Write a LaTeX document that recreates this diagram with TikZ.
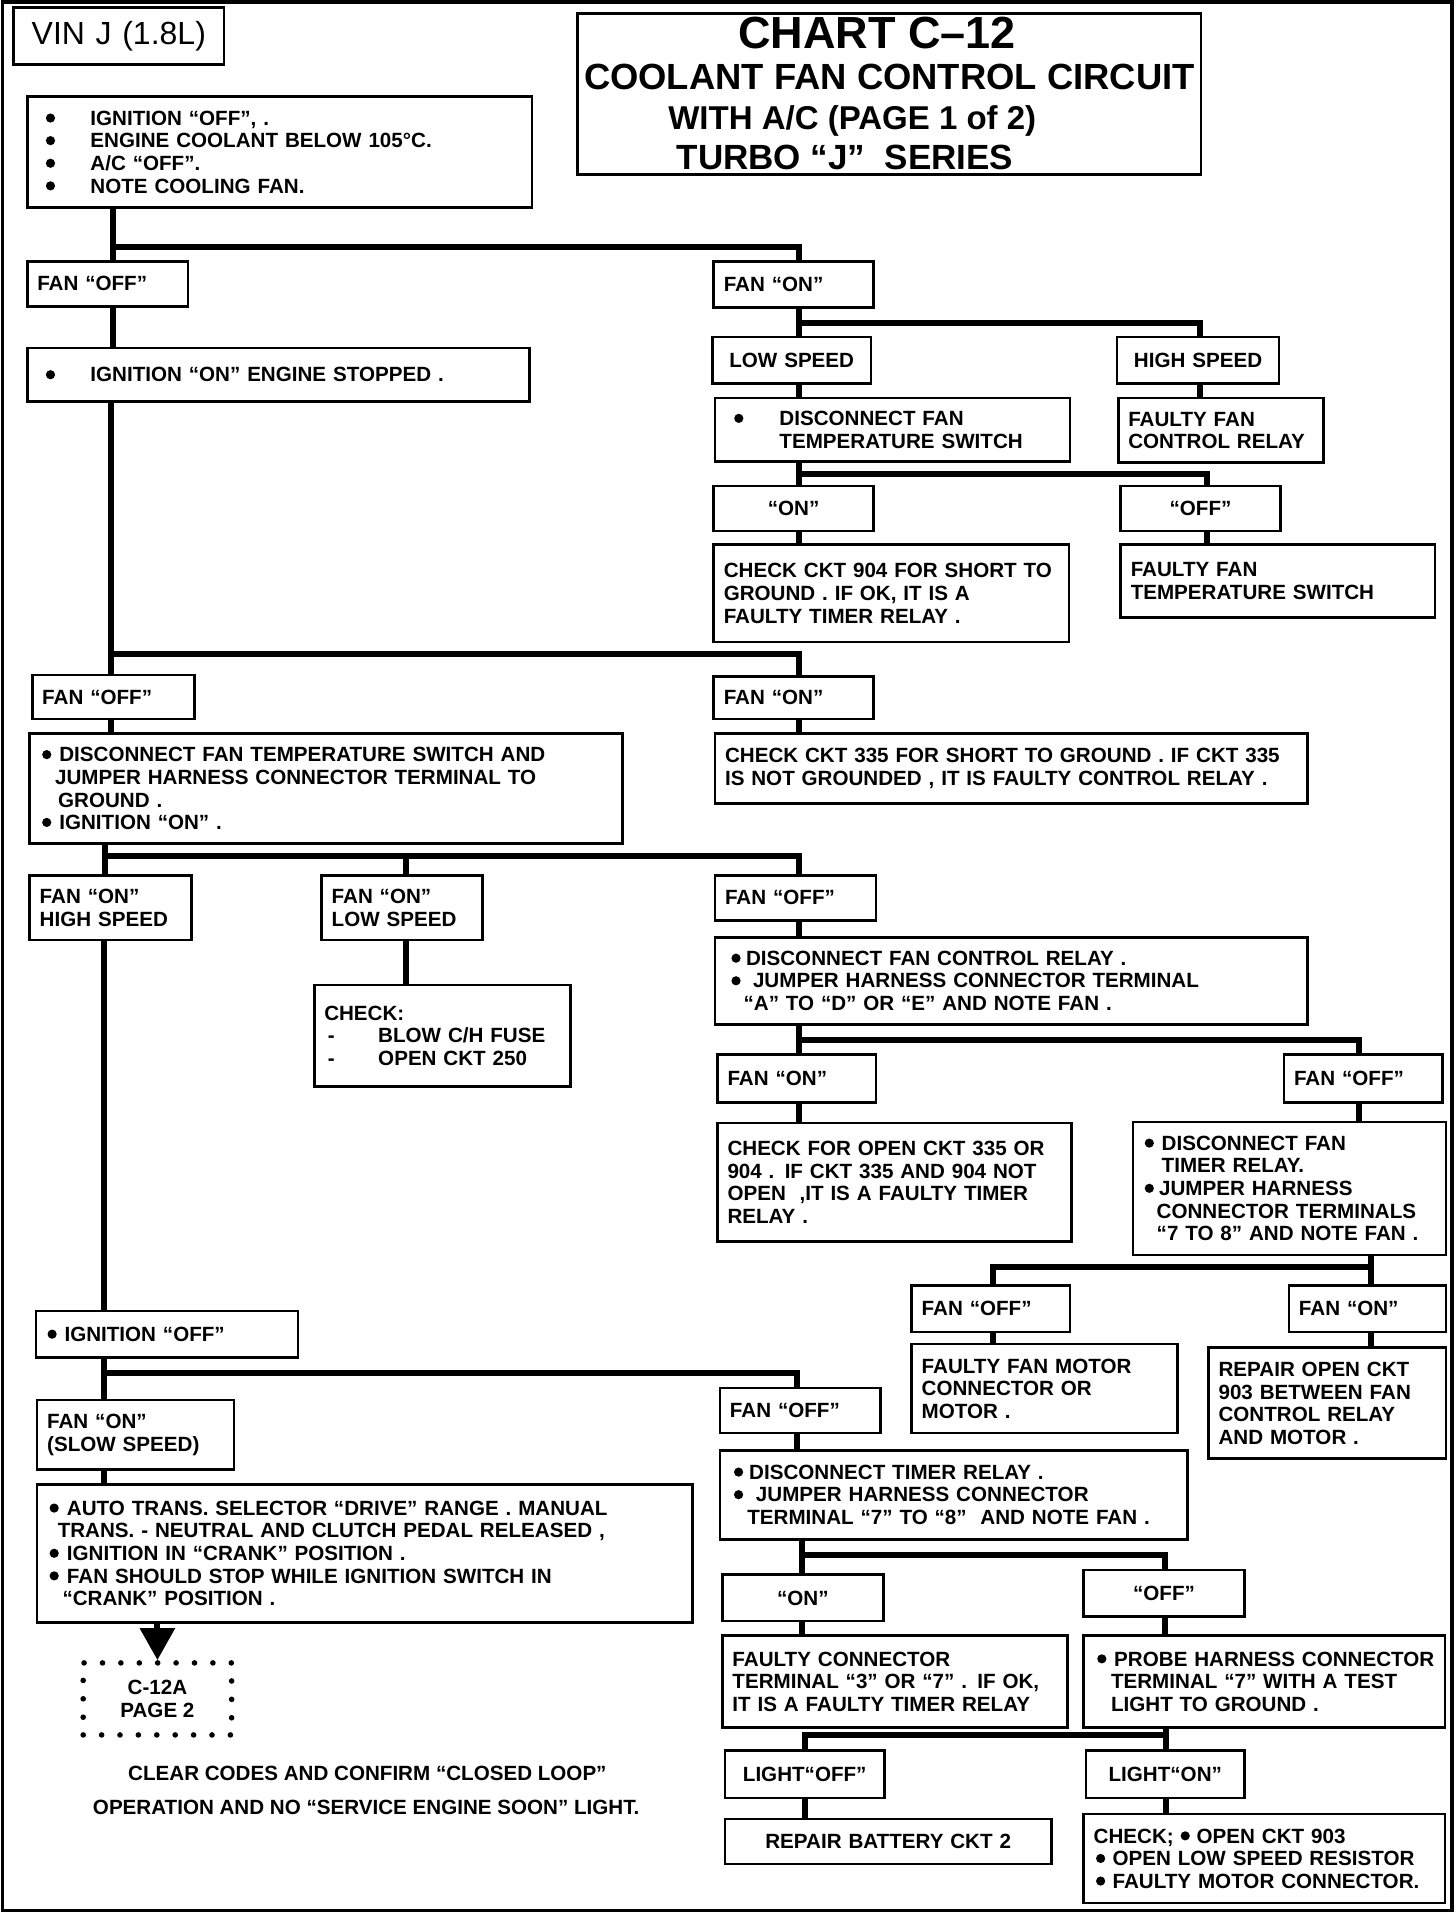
\documentclass[tikz,border=0pt]{standalone}
\usepackage{fontspec}
\setmainfont{Liberation Sans}
\usetikzlibrary{arrows.meta}

\newcommand{\bigdot}{\raisebox{1.3pt}{\tikz\fill (0,0) circle (2.3pt);}}
\newcommand{\dotin}[2]{\hspace*{#1}\makebox[#2][l]{\bigdot}}
\newcommand{\dashin}{\hspace*{1.8pt}\makebox[25.2pt][l]{-}}

\begin{document}
\begin{tikzpicture}[x=0.6185pt,y=-0.61035pt,
  box/.style 2 args={draw,line width=1.3pt,anchor=north west,inner xsep=5pt,inner ysep=0pt,
    minimum width=#1*0.6185pt,minimum height=#2*0.61035pt,text width=#1*0.6185pt-10pt,
    align=left,font=\bfseries\fontsize{10.3}{11.3}\selectfont},
  mid/.style={align=center},
  link/.style={line width=3pt,line join=miter},
  head/.style={inner sep=0pt},
  note/.style={inner sep=0pt,font=\bfseries\fontsize{10.3}{11.3}\selectfont},
  dotbox/.style={draw,line width=2.8pt,dash pattern=on 0pt off 9.2pt,line cap=round,
    anchor=north west,inner sep=0pt,minimum width=120*0.6185pt,minimum height=59*0.61035pt,
    align=center,font=\bfseries\fontsize{10.3}{11.3}\selectfont}]
\fill[white] (0,0) rectangle (1177,1568);
\draw[line width=1.8pt] (2,1.5) rectangle (1174,1565);

\node[box={170}{47},mid,font=\fontsize{16}{18}\selectfont] (vin) at (10,5) {VIN J (1.8L)};
\node[box={504}{132}] (title) at (466,10) {};
\node[head,font=\bfseries\fontsize{22.5}{24}\selectfont] (chart) at (709,27) {CHART C–12};
\node[head,font=\bfseries\fontsize{18.2}{20}\selectfont] (circuit) at (719,63) {COOLANT FAN CONTROL CIRCUIT};
\node[head,font=\bfseries\fontsize{16.5}{18}\selectfont] (page) at (689,99) {WITH A/C (PAGE 1 of 2)};
\node[head,font=\bfseries\fontsize{17.5}{19}\selectfont] (series) at (683,129) {TURBO “J”\ \ SERIES};

\node[box={408}{91}] (start) at (21,78) {\dotin{4.3pt}{22.3pt}IGNITION “OFF”, .\\
  \dotin{4.3pt}{22.3pt}ENGINE COOLANT BELOW 105°C.\\
  \dotin{4.3pt}{22.3pt}A/C “OFF”.\\
  \dotin{4.3pt}{22.3pt}NOTE COOLING FAN.};
\node[box={130}{37}] (fanoff1) at (21,213) {FAN “OFF”};
\node[box={129}{38}] (fanon1) at (576,213) {FAN “ON”};
\node[box={406}{44}] (ignon) at (21,284) {\dotin{4.3pt}{22.3pt}IGNITION “ON” ENGINE STOPPED .};
\node[box={128}{38},mid] (lowspeed) at (575,275) {LOW SPEED};
\node[box={131}{38},mid] (highspeed) at (902,275) {HIGH SPEED};
\node[box={287}{52}] (tempsw) at (577,325) {\dotin{4.6pt}{22.6pt}DISCONNECT FAN\\\hspace*{27.2pt}TEMPERATURE SWITCH};
\node[box={166}{53}] (ctrlrelay) at (903,325) {FAULTY FAN\\CONTROL RELAY};
\node[box={129}{37},mid] (swon) at (576,397) {“ON”};
\node[box={129}{37},mid] (swoff) at (905,397) {“OFF”};
\node[box={287}{80}] (ckt904) at (576,445) {CHECK CKT 904 FOR SHORT TO\\GROUND . IF OK, IT IS A\\FAULTY TIMER RELAY .};
\node[box={254}{60}] (badsw) at (905,445) {FAULTY FAN\\TEMPERATURE SWITCH};

\node[box={131}{36}] (fanoff2) at (25,552) {FAN “OFF”};
\node[box={129}{35}] (fanon2) at (576,553) {FAN “ON”};
\node[box={479}{90}] (jumpgnd) at (23,600) {\dotin{1.2pt}{8.6pt}DISCONNECT FAN TEMPERATURE SWITCH AND\\
  \hspace*{7.7pt}JUMPER HARNESS CONNECTOR TERMINAL TO\\
  \hspace*{9.2pt}GROUND .\\
  \dotin{1.2pt}{8.6pt}IGNITION “ON” .};
\node[box={479}{57}] (ckt335) at (577,600) {CHECK CKT 335 FOR SHORT TO GROUND . IF CKT 335\\IS NOT GROUNDED , IT IS FAULTY CONTROL RELAY .};
\node[box={131}{53}] (fanhigh) at (23,716) {FAN “ON”\\HIGH SPEED};
\node[box={130}{53}] (fanlow) at (259,716) {FAN “ON”\\LOW SPEED};
\node[box={130}{37}] (fanoff3) at (577,716) {FAN “OFF”};
\node[box={207}{83}] (fuse) at (253,806) {CHECK:\\\dashin BLOW C/H FUSE\\\dashin OPEN CKT 250};
\node[box={479}{71}] (ctrlrly) at (577,767) {\dotin{3.2pt}{7.3pt}DISCONNECT FAN CONTROL RELAY .\\
  \dotin{3.2pt}{10.8pt}JUMPER HARNESS CONNECTOR TERMINAL\\
  \hspace*{9.3pt}“A” TO “D” OR “E” AND NOTE FAN .};
\node[box={128}{39}] (fanon3) at (579,863) {FAN “ON”};
\node[box={128}{39}] (fanoff4) at (1037,863) {FAN “OFF”};
\node[box={286}{97}] (openckt) at (579,919) {CHECK FOR OPEN CKT 335 OR\\904 . IF CKT 335 AND 904 NOT\\OPEN\ \ ,IT IS A FAULTY TIMER\\RELAY .};
\node[box={253}{109}] (timerrly) at (915,918) {\dotin{0.8pt}{8.5pt}DISCONNECT FAN\\
  \hspace*{9.3pt}TIMER RELAY.\\
  \dotin{0.8pt}{7.2pt}JUMPER HARNESS\\
  \hspace*{6.8pt}CONNECTOR TERMINALS\\
  \hspace*{6.8pt}“7 TO 8” AND NOTE FAN .};
\node[box={128}{38}] (fanoff5) at (736,1052) {FAN “OFF”};
\node[box={127}{38}] (fanon4) at (1041,1052) {FAN “ON”};
\node[box={215}{73}] (motor) at (736,1100) {FAULTY FAN MOTOR\\CONNECTOR OR\\MOTOR .};
\node[box={192}{91}] (ckt903) at (976,1103) {REPAIR OPEN CKT\\903 BETWEEN FAN\\CONTROL RELAY\\AND MOTOR .};

\node[box={212}{38}] (ignoff) at (28,1073) {\dotin{0.8pt}{8.5pt}IGNITION “OFF”};
\node[box={159}{57}] (fanslow) at (29,1146) {FAN “ON”\\(SLOW SPEED)};
\node[box={130}{37}] (fanoff6) at (581,1136) {FAN “OFF”};
\node[box={530}{113}] (crank) at (29,1215) {\dotin{1.2pt}{8.7pt}AUTO TRANS. SELECTOR “DRIVE” RANGE . MANUAL\\
  \hspace*{5.3pt}TRANS. - NEUTRAL AND CLUTCH PEDAL RELEASED ,\\
  \dotin{1.2pt}{8.7pt}IGNITION IN “CRANK” POSITION .\\
  \dotin{1.2pt}{8.7pt}FAN SHOULD STOP WHILE IGNITION SWITCH IN\\
  \hspace*{7.7pt}“CRANK” POSITION .};
\node[dotbox] (page2) at (65,1360) {C-12A\\PAGE 2};
\node[note] (clear) at (297,1453) {CLEAR CODES AND CONFIRM “CLOSED LOOP”};
\node[note] (operation) at (296,1481) {OPERATION AND NO “SERVICE ENGINE SOON” LIGHT.};
\node[box={378}{73}] (timer2) at (581,1187) {\dotin{2pt}{7.6pt}DISCONNECT TIMER RELAY .\\
  \dotin{2pt}{11pt}JUMPER HARNESS CONNECTOR\\
  \hspace*{8.7pt}TERMINAL “7” TO “8”\ \ AND NOTE FAN .};
\node[box={130}{38},mid] (on2) at (583,1289) {“ON”};
\node[box={130}{38},mid] (off2) at (875,1285) {“OFF”};
\node[box={279}{75}] (badconn) at (583,1339) {FAULTY CONNECTOR\\TERMINAL “3” OR “7” . IF OK,\\IT IS A FAULTY TIMER RELAY};
\node[box={292}{75}] (probe) at (875,1339) {\dotin{1.8pt}{8.5pt}PROBE HARNESS CONNECTOR\\
  \hspace*{8.7pt}TERMINAL “7” WITH A TEST\\
  \hspace*{8.7pt}LIGHT TO GROUND .};
\node[box={129}{39},mid] (lightoff) at (585,1433) {LIGHT“OFF”};
\node[box={128}{39},mid] (lighton) at (877,1433) {LIGHT“ON”};
\node[box={264}{37},mid] (battery) at (585,1489) {REPAIR BATTERY CKT 2};
\node[box={292}{73}] (lastcheck) at (875,1485) {CHECK; \bigdot\ OPEN CKT 903\\
  \dotin{1.2pt}{8.3pt}OPEN LOW SPEED RESISTOR\\
  \dotin{1.2pt}{8.3pt}FAULTY MOTOR CONNECTOR.};

\coordinate (s1l) at (91,202); \coordinate (s1r) at (646,202);
\coordinate (s2l) at (646,265); \coordinate (s2r) at (970,265);
\coordinate (s3l) at (646,388); \coordinate (s3r) at (976,388);
\coordinate (s4l) at (90,536); \coordinate (s4r) at (646,536);
\coordinate (s5l) at (85,701); \coordinate (s5m) at (328,701); \coordinate (s5r) at (646,701);
\coordinate (s6l) at (646,852); \coordinate (s6r) at (1099,852);
\coordinate (s7l) at (803,1038); \coordinate (s7r) at (1108,1038);
\coordinate (s8l) at (84,1125); \coordinate (s8r) at (644,1125);
\coordinate (s9l) at (648,1274); \coordinate (s9r) at (942,1274);
\coordinate (s10l) at (651,1421); \coordinate (s10r) at (943,1421);

\draw[link] (start.south -| s1l) -- (fanoff1.north -| s1l);
\draw[link] (s1l) -- (s1r) -- (fanon1.north -| s1r);
\draw[link] (fanoff1.south -| s1l) -- (ignon.north -| s1l);
\draw[link] (fanon1.south -| s2l) -- (lowspeed.north -| s2l);
\draw[link] (s2l) -- (s2r) -- (highspeed.north -| s2r);
\draw[link] (lowspeed.south -| s2l) -- (tempsw.north -| s2l);
\draw[link] (highspeed.south -| s2r) -- (ctrlrelay.north -| s2r);
\draw[link] (tempsw.south -| s3l) -- (swon.north -| s3l);
\draw[link] (s3l) -- (s3r) -- (swoff.north -| s3r);
\draw[link] (swon.south -| s3l) -- (ckt904.north -| s3l);
\draw[link] (swoff.south -| s3r) -- (badsw.north -| s3r);

\draw[link] (ignon.south -| s4l) -- (fanoff2.north -| s4l);
\draw[link] (s4l) -- (s4r) -- (fanon2.north -| s4r);
\draw[link] (fanoff2.south -| s4l) -- (jumpgnd.north -| s4l);
\draw[link] (fanon2.south -| s4r) -- (ckt335.north -| s4r);
\draw[link] (jumpgnd.south -| s5l) -- (fanhigh.north -| s5l);
\draw[link] (s5l) -- (s5r) -- (fanoff3.north -| s5r);
\draw[link] (s5m) -- (fanlow.north -| s5m);
\draw[link] (fanlow.south -| s5m) -- (fuse.north -| s5m);
\draw[link] (fanoff3.south -| s5r) -- (ctrlrly.north -| s5r);
\draw[link] (ctrlrly.south -| s6l) -- (fanon3.north -| s6l);
\draw[link] (s6l) -- (s6r) -- (fanoff4.north -| s6r);
\draw[link] (fanon3.south -| s6l) -- (openckt.north -| s6l);
\draw[link] (fanoff4.south -| s6r) -- (timerrly.north -| s6r);
\draw[link] (timerrly.south -| s7r) -- (fanon4.north -| s7r);
\draw[link] (s7r) -- (s7l) -- (fanoff5.north -| s7l);
\draw[link] (fanoff5.south -| s7l) -- (motor.north -| s7l);
\draw[link] (fanon4.south -| s7r) -- (ckt903.north -| s7r);

\draw[link] (fanhigh.south -| s8l) -- (ignoff.north -| s8l);
\draw[link] (ignoff.south -| s8l) -- (fanslow.north -| s8l);
\draw[link] (s8l) -- (s8r) -- (fanoff6.north -| s8r);
\draw[link] (fanslow.south -| s8l) -- (crank.north -| s8l);
\draw[link,-{Triangle[width=17pt,length=16pt]}] (crank.south -| page2.north) -- (page2.north);
\draw[link] (fanoff6.south -| s8r) -- (timer2.north -| s8r);
\draw[link] (timer2.south -| s9l) -- (on2.north -| s9l);
\draw[link] (s9l) -- (s9r) -- (off2.north -| s9r);
\draw[link] (on2.south -| s9l) -- (badconn.north -| s9l);
\draw[link] (off2.south -| s9r) -- (probe.north -| s9r);
\draw[link] (probe.south -| s10r) -- (lighton.north -| s10r);
\draw[link] (s10r) -- (s10l) -- (lightoff.north -| s10l);
\draw[link] (lightoff.south -| s10l) -- (battery.north -| s10l);
\draw[link] (lighton.south -| s10r) -- (lastcheck.north -| s10r);
\end{tikzpicture}
\end{document}
